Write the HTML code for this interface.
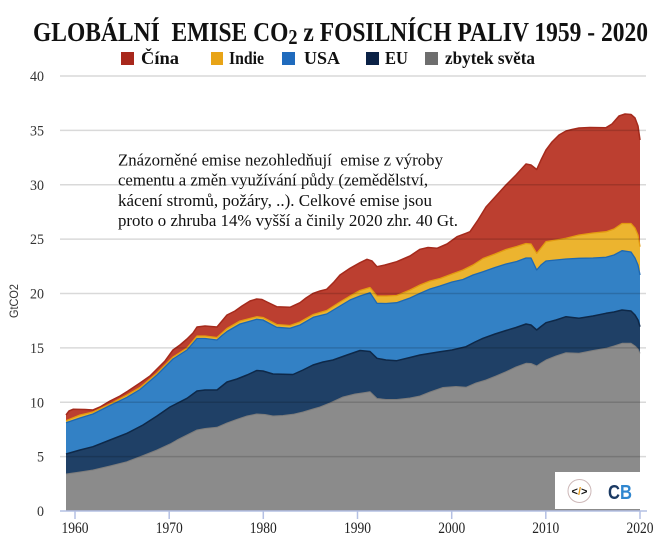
<!DOCTYPE html>
<html>
<head>
<meta charset="utf-8">
<style>
html,body{margin:0;padding:0;background:#fff;}
svg{display:block;}
</style>
</head>
<body>
<svg width="666" height="548" viewBox="0 0 666 548" xmlns="http://www.w3.org/2000/svg">
<rect x="0" y="0" width="666" height="548" fill="#fff"/>

<!-- Title -->
<text x="33" y="41" font-family="Liberation Serif, serif" font-weight="bold" font-size="27" fill="#111" textLength="615" lengthAdjust="spacingAndGlyphs">GLOBÁLNÍ&#160; EMISE CO<tspan font-size="21" dy="3">2</tspan><tspan dy="-3"> z FOSILNÍCH PALIV 1959 - 2020</tspan></text>

<!-- Legend -->
<g font-family="Liberation Serif, serif" font-weight="bold" font-size="18" fill="#111">
<rect x="121" y="52" width="13" height="13" fill="#a8281c"/>
<text x="141" y="64" textLength="38" lengthAdjust="spacingAndGlyphs">Čína</text>
<rect x="211" y="52" width="12" height="13" fill="#e8a417"/>
<text x="229" y="64" textLength="35" lengthAdjust="spacingAndGlyphs">Indie</text>
<rect x="282" y="52" width="13" height="13" fill="#1f6bbd"/>
<text x="304" y="64" textLength="36" lengthAdjust="spacingAndGlyphs">USA</text>
<rect x="366" y="52" width="13" height="13" fill="#0b2246"/>
<text x="385" y="64" textLength="23" lengthAdjust="spacingAndGlyphs">EU</text>
<rect x="425" y="52" width="13" height="13" fill="#6e6e6e"/>
<text x="445" y="64" textLength="90" lengthAdjust="spacingAndGlyphs">zbytek světa</text>
</g>

<!-- Stacked areas -->
<path fill="#bc3f30" d="M66,511 L66,415 L69,411 L73,409.3 L85,409.5 L93,410 L100,407 L110,401 L120,396 L127,391.7 L140,383 L150,376 L157,369 L165,361 L173,350 L180,345 L187,339 L193,333 L197,327 L205,326 L217,327 L222,321 L227,315 L235,311 L242,306 L250,301 L256.7,299 L262,299.5 L267,302 L276.7,306.7 L290,307.3 L300,302.7 L306,298 L313.3,293.3 L320,291 L326.7,289.3 L334,282 L340,275 L350,268.3 L360,262.7 L367,259.3 L372,261 L377,266.7 L385,265 L396.7,261.7 L410,256 L420,249.3 L428,247.5 L437,248.3 L447,244 L457,236.7 L466,233.3 L470,231.7 L478,220 L486,207 L496,196 L506,185 L516,175 L526,164 L531,165 L536.7,169.5 L541,160 L546,150 L552,142 L559,135 L566,131 L572,129.5 L579,128 L590,127.5 L606,127.7 L612,124 L619,116 L625,114 L631,114.5 L635,118 L638,126 L640,140 L640,511 Z"/>
<path fill="#ecb42f" d="M66,511 L66,420.7 L80,415 L93,412 L110,404 L127,395 L140,387.5 L157,373 L173,357 L187,348 L197,336 L205,336 L217,337.5 L222,333 L227,328.5 L240,321 L256.7,316.7 L263,317.5 L276.7,324.5 L290,325.5 L300,322 L313.3,314.5 L326.7,310.5 L340,302 L350,296 L360,290.5 L370,287.5 L377,296 L386,296 L396.7,295.5 L410,290 L420,285 L430,281 L440,278.5 L452,274 L463,270 L473,265 L483,258.5 L495,254 L506,249.5 L516.7,246.5 L526,243.5 L531,244 L536.7,253.3 L541,248 L546,241.7 L556,240 L566,238.3 L579,235 L593,233 L606,231.7 L614,229 L622,223.5 L631,223.5 L635,228 L638,235 L640,246.7 L640,511 Z"/>
<path fill="#3381c5" d="M66,511 L66,422.7 L80,418 L93,414 L110,405.5 L127,397.3 L140,389.5 L157,375 L173,359 L187,350 L197,338.5 L205,338.5 L217,340 L222,335.5 L227,331.5 L240,324 L256.7,319.3 L263,320 L276.7,327.3 L290,328.3 L300,325 L313.3,317.3 L326.7,314 L340,306 L350,300 L360,296 L370,292.7 L377,303.3 L386,303.5 L396.7,302.7 L410,298 L420,293.3 L430,289 L440,286 L452,282 L463,279.5 L473,275 L483,271.7 L495,267.5 L506,264 L516.7,261.5 L526,258 L531,258 L536.7,270 L541,265 L546,261 L556,260 L566,259 L579,258.3 L593,258 L606,257.3 L614,255 L622,250.7 L631,252 L635,258 L638,265 L640,275 L640,511 Z"/>
<path fill="#1f4066" d="M66,511 L66,454 L80,450 L93,446.7 L110,440 L127,433.3 L143,425 L157,416 L170,407 L187,398.3 L197,391 L205,390 L217,390 L222,386 L227,382 L237,379 L247,375 L256.7,370.5 L263,371 L273,374 L293,374.5 L303,370 L313,365 L323,362 L333,360 L347,355 L360,350.5 L370,351.5 L377,358.3 L386,360 L396.7,360.7 L410,357.5 L420,355 L440,351.7 L452,350 L466,346.7 L475,342 L483,338.3 L495,334 L506,330.5 L516,327.5 L526,324 L531,325 L536.7,330 L541,326.5 L546,322.7 L556,320 L566,316.7 L579,318.3 L593,316 L606,313.3 L614,312 L622,310 L631,311 L635,315 L638,320 L640,326.7 L640,511 Z"/>
<path fill="#8b8b8b" d="M66,511 L66,474 L80,472 L93,470 L110,466 L127,461.7 L142,456 L157,450 L170,444 L177,440 L187,435 L197,430 L205,428.5 L217,427.3 L227,423 L237,419.3 L247,416 L256.7,414 L265,414.5 L273,416 L283,415.5 L293,414.3 L303,412 L313,409 L320,407 L330,403 L343,397 L355,394 L362,393 L370,391.7 L377,398.5 L386,399.5 L396.7,399.5 L410,398 L420,396 L430,392 L443,387.5 L456,386.5 L466,387.3 L476,383 L486,380 L496,376 L506,371.7 L516,367 L526,363.3 L531,363.5 L536.7,366 L541,363 L546,360 L556,356 L566,352.7 L579,353.3 L593,350.5 L606,348.3 L614,346 L622,343.3 L631,343.3 L635,346 L638,349 L640,353.3 L640,511 Z"/>

<!-- Top edge lines -->
<g fill="none" stroke-linejoin="round">
<polyline stroke="#a52a1c" stroke-width="1.5" points="66,415 69,411 73,409.3 85,409.5 93,410 100,407 110,401 120,396 127,391.7 140,383 150,376 157,369 165,361 173,350 180,345 187,339 193,333 197,327 205,326 217,327 222,321 227,315 235,311 242,306 250,301 256.7,299 262,299.5 267,302 276.7,306.7 290,307.3 300,302.7 306,298 313.3,293.3 320,291 326.7,289.3 334,282 340,275 350,268.3 360,262.7 367,259.3 372,261 377,266.7 385,265 396.7,261.7 410,256 420,249.3 428,247.5 437,248.3 447,244 457,236.7 466,233.3 470,231.7 478,220 486,207 496,196 506,185 516,175 526,164 531,165 536.7,169.5 541,160 546,150 552,142 559,135 566,131 572,129.5 579,128 590,127.5 606,127.7 612,124 619,116 625,114 631,114.5 635,118 638,126 640,140"/>
<polyline stroke="#e39a10" stroke-width="1.3" points="66,420.7 80,415 93,412 110,404 127,395 140,387.5 157,373 173,357 187,348 197,336 205,336 217,337.5 222,333 227,328.5 240,321 256.7,316.7 263,317.5 276.7,324.5 290,325.5 300,322 313.3,314.5 326.7,310.5 340,302 350,296 360,290.5 370,287.5 377,296 386,296 396.7,295.5 410,290 420,285 430,281 440,278.5 452,274 463,270 473,265 483,258.5 495,254 506,249.5 516.7,246.5 526,243.5 531,244 536.7,253.3 541,248 546,241.7 556,240 566,238.3 579,235 593,233 606,231.7 614,229 622,223.5 631,223.5 635,228 638,235 640,246.7"/>
<polyline stroke="#1d68b3" stroke-width="1.3" points="66,422.7 80,418 93,414 110,405.5 127,397.3 140,389.5 157,375 173,359 187,350 197,338.5 205,338.5 217,340 222,335.5 227,331.5 240,324 256.7,319.3 263,320 276.7,327.3 290,328.3 300,325 313.3,317.3 326.7,314 340,306 350,300 360,296 370,292.7 377,303.3 386,303.5 396.7,302.7 410,298 420,293.3 430,289 440,286 452,282 463,279.5 473,275 483,271.7 495,267.5 506,264 516.7,261.5 526,258 531,258 536.7,270 541,265 546,261 556,260 566,259 579,258.3 593,258 606,257.3 614,255 622,250.7 631,252 635,258 638,265 640,275"/>
<polyline stroke="#0e2848" stroke-width="1.5" points="66,454 80,450 93,446.7 110,440 127,433.3 143,425 157,416 170,407 187,398.3 197,391 205,390 217,390 222,386 227,382 237,379 247,375 256.7,370.5 263,371 273,374 293,374.5 303,370 313,365 323,362 333,360 347,355 360,350.5 370,351.5 377,358.3 386,360 396.7,360.7 410,357.5 420,355 440,351.7 452,350 466,346.7 475,342 483,338.3 495,334 506,330.5 516,327.5 526,324 531,325 536.7,330 541,326.5 546,322.7 556,320 566,316.7 579,318.3 593,316 606,313.3 614,312 622,310 631,311 635,315 638,320 640,326.7"/>
<polyline stroke="#7c7c7c" stroke-width="1" points="66,474 80,472 93,470 110,466 127,461.7 142,456 157,450 170,444 177,440 187,435 197,430 205,428.5 217,427.3 227,423 237,419.3 247,416 256.7,414 265,414.5 273,416 283,415.5 293,414.3 303,412 313,409 320,407 330,403 343,397 355,394 362,393 370,391.7 377,398.5 386,399.5 396.7,399.5 410,398 420,396 430,392 443,387.5 456,386.5 466,387.3 476,383 486,380 496,376 506,371.7 516,367 526,363.3 531,363.5 536.7,366 541,363 546,360 556,356 566,352.7 579,353.3 593,350.5 606,348.3 614,346 622,343.3 631,343.3 635,346 638,349 640,353.3"/>
</g>

<!-- Gridlines -->
<g stroke="#000" stroke-opacity="0.15" stroke-width="1.5">
<line x1="60" y1="76" x2="646" y2="76"/>
<line x1="60" y1="130.4" x2="646" y2="130.4"/>
<line x1="60" y1="184.75" x2="646" y2="184.75"/>
<line x1="60" y1="239.1" x2="646" y2="239.1"/>
<line x1="60" y1="293.5" x2="646" y2="293.5"/>
<line x1="60" y1="347.9" x2="646" y2="347.9"/>
<line x1="60" y1="402.25" x2="646" y2="402.25"/>
<line x1="60" y1="456.6" x2="646" y2="456.6"/>
</g>

<!-- Logo -->
<rect x="555" y="472" width="85" height="37" fill="#fff"/>
<circle cx="579.5" cy="491" r="11.5" fill="#fff" stroke="#cdb8b8" stroke-width="1"/>
<text x="579.5" y="495" text-anchor="middle" font-family="Liberation Sans, sans-serif" font-weight="bold" font-size="11" fill="#111">&lt;<tspan fill="#e89b1a">/</tspan>&gt;</text>
<text x="608" y="499" font-family="Liberation Sans, sans-serif" font-weight="bold" font-size="20" textLength="24" lengthAdjust="spacingAndGlyphs"><tspan fill="#1b3a63">C</tspan><tspan fill="#2f86cf">B</tspan></text>

<!-- X axis -->
<g stroke="#b4c0e4" stroke-width="1.5">
<line x1="60" y1="511" x2="647" y2="511"/>
<line x1="75" y1="511" x2="75" y2="519"/>
<line x1="169.2" y1="511" x2="169.2" y2="519"/>
<line x1="263.3" y1="511" x2="263.3" y2="519"/>
<line x1="357.5" y1="511" x2="357.5" y2="519"/>
<line x1="451.7" y1="511" x2="451.7" y2="519"/>
<line x1="545.8" y1="511" x2="545.8" y2="519"/>
<line x1="640" y1="511" x2="640" y2="519"/>
</g>
<g font-family="Liberation Serif, serif" font-size="16" fill="#222" text-anchor="middle">
<text x="75" y="533" textLength="27" lengthAdjust="spacingAndGlyphs">1960</text>
<text x="169.2" y="533" textLength="27" lengthAdjust="spacingAndGlyphs">1970</text>
<text x="263.3" y="533" textLength="27" lengthAdjust="spacingAndGlyphs">1980</text>
<text x="357.5" y="533" textLength="27" lengthAdjust="spacingAndGlyphs">1990</text>
<text x="451.7" y="533" textLength="27" lengthAdjust="spacingAndGlyphs">2000</text>
<text x="545.8" y="533" textLength="27" lengthAdjust="spacingAndGlyphs">2010</text>
<text x="640" y="533" textLength="27" lengthAdjust="spacingAndGlyphs">2020</text>
</g>

<!-- Y axis labels -->
<g font-family="Liberation Serif, serif" font-size="15" fill="#333" text-anchor="end">
<text x="44" y="81" textLength="14" lengthAdjust="spacingAndGlyphs">40</text>
<text x="44" y="135.4" textLength="14" lengthAdjust="spacingAndGlyphs">35</text>
<text x="44" y="189.75" textLength="14" lengthAdjust="spacingAndGlyphs">30</text>
<text x="44" y="244.1" textLength="14" lengthAdjust="spacingAndGlyphs">25</text>
<text x="44" y="298.5" textLength="14" lengthAdjust="spacingAndGlyphs">20</text>
<text x="44" y="352.9" textLength="14" lengthAdjust="spacingAndGlyphs">15</text>
<text x="44" y="407.25" textLength="14" lengthAdjust="spacingAndGlyphs">10</text>
<text x="44" y="461.6" textLength="7" lengthAdjust="spacingAndGlyphs">5</text>
<text x="44" y="516" textLength="7" lengthAdjust="spacingAndGlyphs">0</text>
</g>
<text transform="translate(18,301) rotate(-90)" text-anchor="middle" font-family="Liberation Sans, sans-serif" font-size="12" fill="#333" textLength="34" lengthAdjust="spacingAndGlyphs">GtCO2</text>

<!-- Annotation -->
<g font-family="Liberation Serif, serif" font-size="16.5" fill="#111">
<text x="118" y="165.5" textLength="325" lengthAdjust="spacingAndGlyphs">Znázorněné emise nezohledňují&#160; emise z výroby</text>
<text x="118" y="185.5" textLength="310" lengthAdjust="spacingAndGlyphs">cementu a změn využívání půdy (zemědělství,</text>
<text x="118" y="206" textLength="314" lengthAdjust="spacingAndGlyphs">kácení stromů, požáry, ..). Celkové emise jsou</text>
<text x="118" y="226" textLength="340" lengthAdjust="spacingAndGlyphs">proto o zhruba 14% vyšší a činily 2020 zhr. 40 Gt.</text>
</g>
</svg>
</body>
</html>
